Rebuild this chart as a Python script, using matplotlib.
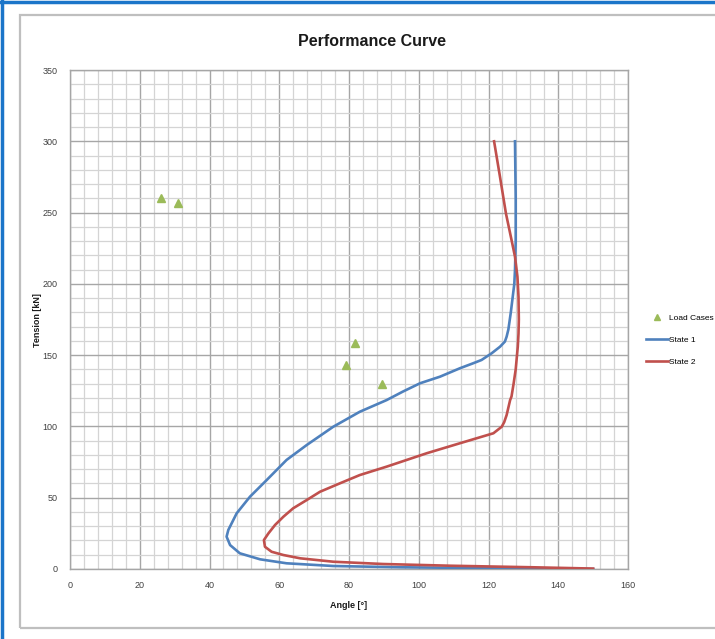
import matplotlib
matplotlib.use("Agg")
import matplotlib.pyplot as plt
from matplotlib.patches import Rectangle
from matplotlib.lines import Line2D
from matplotlib.ticker import MultipleLocator

plt.rcParams['font.family'] = ['Liberation Sans', 'DejaVu Sans']

# ---- data ----
load_angle = [26.2, 31.1, 81.6, 79.0, 89.6]
load_tension = [260.5, 256.6, 158.6, 142.8, 130.0]

state1_angle = [127.6, 127.8, 127.8, 127.6, 127.4, 126.9, 126.4, 125.7, 125.2, 124.7,
                123.3, 120.9, 118.0, 115.6, 111.8, 106.1, 100.4, 95.5, 90.8, 83.1,
                75.5, 67.9, 62.1, 56.4, 51.6, 47.8, 45.4, 44.9, 45.9, 48.7,
                54.5, 62.1, 75.5, 95.0, 120.0, 150.0]
state1_tension = [300, 260, 230, 210, 200, 190, 180, 168, 163, 159.5,
                  155.9, 151.3, 146.6, 144.3, 140.8, 134.9, 130.3, 124.5, 118.5, 110.3,
                  99.8, 87.0, 76.5, 62.4, 50.7, 39.1, 27.4, 22.7, 16.8, 11.0,
                  6.8, 4.0, 2.1, 1.2, 0.6, 0.0]

state2_angle = [121.6, 123.3, 125.0, 126.5, 127.6, 128.3, 128.6, 128.7, 128.6, 128.4,
                127.8, 127.2, 126.6, 126.2, 125.2, 124.5, 123.8, 121.4, 111.8, 102.3,
                90.8, 83.1, 77.4, 71.7, 67.9, 64.0, 61.2, 58.8, 56.9, 55.6,
                55.9, 57.8, 61.2, 66.0, 75.5, 89.8, 109.0, 132.8, 150.0]
state2_tension = [300, 275, 249.4, 232, 219, 205, 191, 175, 165, 156,
                  140, 130, 121, 118.5, 108, 103, 99.8, 95.2, 88.2, 81.2,
                  71.8, 65.9, 60.1, 54.2, 48.4, 42.6, 36.7, 30.9, 25.0, 20.3,
                  15.6, 12.1, 9.8, 7.5, 5.1, 3.5, 2.3, 1.2, 0.3]

title = "Performance Curve"
xlabel = "Angle [°]"
ylabel = "Tension [kN]"

W, H = 715, 639
fig = plt.figure(figsize=(W / 100, H / 100), dpi=100)

# borders
fig.patches.append(Rectangle((20 / W, 1 - 628 / H), 700 / W, (628 - 15) / H,
                             transform=fig.transFigure, fill=False,
                             edgecolor='#BFBFBF', linewidth=1.6))
fig.lines.append(Line2D([0, 1], [1 - 1.5 / H, 1 - 1.5 / H], transform=fig.transFigure,
                        color='#1B75C9', linewidth=2.5))
fig.lines.append(Line2D([1.5 / W, 1.5 / W], [0, 1], transform=fig.transFigure,
                        color='#1B75C9', linewidth=2.5))

ax = fig.add_axes([70 / W, 1 - 569 / H, (628 - 70) / W, (569 - 70) / H])

ax.plot(state1_angle, state1_tension, color='#4F81BD', linewidth=1.9, zorder=3,
        solid_joinstyle='round', label='State 1')
ax.plot(state2_angle, state2_tension, color='#C0504D', linewidth=1.9, zorder=4,
        solid_joinstyle='round', label='State 2')
ax.plot(load_angle, load_tension, linestyle='none', marker='^', markersize=6,
        color='#9BBB59', zorder=5, label='Load Cases')

ax.set_xlim(0, 160)
ax.set_ylim(0, 350)
ax.xaxis.set_major_locator(MultipleLocator(20))
ax.xaxis.set_minor_locator(MultipleLocator(4))
ax.yaxis.set_major_locator(MultipleLocator(50))
ax.yaxis.set_minor_locator(MultipleLocator(10))
ax.grid(which='major', color='#A6A6A6', linewidth=1.0, zorder=0)
ax.grid(which='minor', color='#D4D4D4', linewidth=0.9, zorder=0)
ax.set_axisbelow(True)
for s in ax.spines.values():
    s.set_color('#A6A6A6')
    s.set_linewidth(1.0)
ax.tick_params(which='both', length=0, labelsize=6.5, labelcolor='#404040')
ax.tick_params(axis='x', pad=9)
ax.tick_params(axis='y', pad=9)

fig.text(372 / W, 1 - 42 / H, title, ha='center', va='center',
         fontsize=11.5, fontweight='bold', color='#1a1a1a')
fig.text(349 / W, 1 - 605 / H, xlabel, ha='center', va='center',
         fontsize=6.5, fontweight='bold', color='#1a1a1a')
fig.text(37 / W, 1 - 320 / H, ylabel, ha='center', va='center', rotation=90,
         fontsize=6.5, fontweight='bold', color='#1a1a1a')

handles = [Line2D([], [], linestyle='none', marker='^', markersize=5, color='#9BBB59'),
           Line2D([], [], color='#4F81BD', linewidth=1.9),
           Line2D([], [], color='#C0504D', linewidth=1.9)]
labels = ['Load Cases', 'State 1', 'State 2']
fig.legend(handles, labels, loc='center left', bbox_to_anchor=(643 / W, 1 - 340 / H),
           frameon=False, fontsize=6, handlelength=2.6, handletextpad=0.1,
           labelspacing=1.7, borderaxespad=0)

fig.savefig('out.png', dpi=100)
